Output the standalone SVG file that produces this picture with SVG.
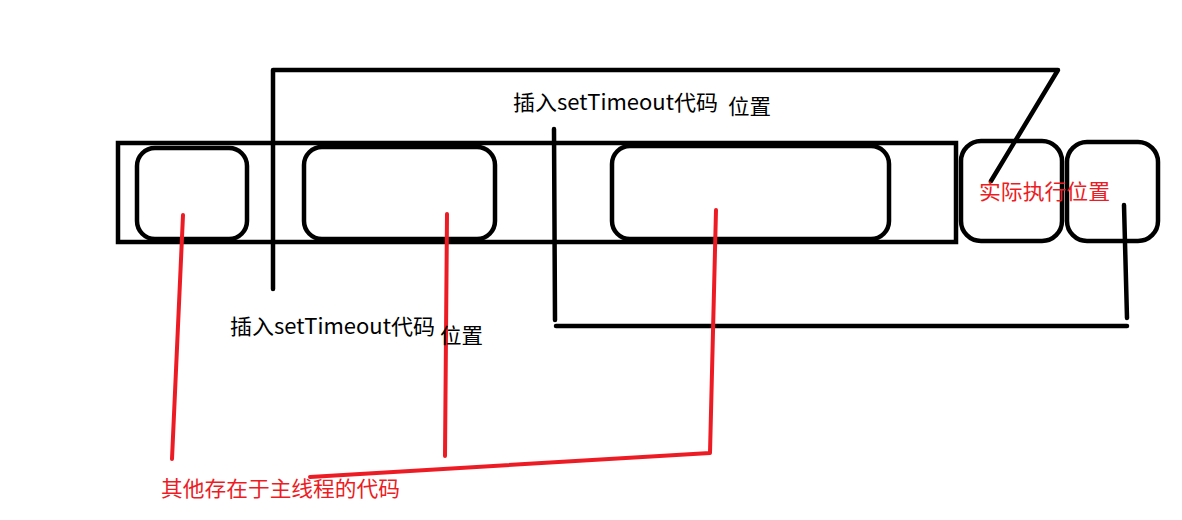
<svg xmlns="http://www.w3.org/2000/svg" width="1182" height="520" viewBox="0 0 1182 520">
<style>
.blk{fill:none;stroke:#000;stroke-width:4.5;stroke-linecap:round;stroke-linejoin:round}
.box{fill:none;stroke:#000;stroke-width:4.5}
.red{fill:none;stroke:#ed1c24;stroke-width:4;stroke-linecap:round;stroke-linejoin:round}
.t{font-family:"Microsoft YaHei","Noto Sans CJK SC",sans-serif;font-size:21px;fill:#000}
.tr{font-family:"Microsoft YaHei","Noto Sans CJK SC",sans-serif;font-size:21px;fill:#ed1c24}
</style>
<rect width="1182" height="520" fill="#fff"/>
<g id="main-thread">
<rect class="box" x="118" y="143" width="838" height="99"/>
</g>
<g id="task1"><rect class="box" x="137" y="148" width="110" height="91" rx="18"/></g>
<g id="task2"><rect class="box" x="304" y="147" width="191" height="92" rx="18"/></g>
<g id="task3"><rect class="box" x="612" y="146" width="277" height="93" rx="18"/></g>
<g id="task4"><rect class="box" x="961" y="141" width="101" height="100" rx="20"/></g>
<g id="task5"><rect class="box" x="1067" y="142" width="91" height="99" rx="20"/></g>
<g id="connectors">
<polyline class="blk" points="273,289 273,70 1058,70 991,181"/>
<polyline class="blk" points="554,129 555,320"/>
<polyline class="blk" points="556,326 1127,326"/>
<polyline class="blk" points="1124,205 1127,318"/>
<polyline class="red" points="183,215 172,459"/>
<polyline class="red" points="447,214 445,456"/>
<polyline class="red" points="716,210 710,453 310,477"/>
</g>
<g id="label-insert-top">
<text class="t" x="513" y="110" textLength="205" lengthAdjust="spacingAndGlyphs">插入setTimeout代码</text>
<text class="t" x="728" y="114" textLength="43" lengthAdjust="spacingAndGlyphs">位置</text>
</g>
<g id="label-insert-bottom">
<text class="t" x="230" y="334" textLength="205" lengthAdjust="spacingAndGlyphs">插入setTimeout代码</text>
<text class="t" x="440" y="343" textLength="43" lengthAdjust="spacingAndGlyphs">位置</text>
</g>
<g id="label-actual">
<text class="tr" x="979" y="199" textLength="131" lengthAdjust="spacingAndGlyphs">实际执行位置</text>
</g>
<g id="label-main">
<text class="tr" x="161" y="496" textLength="239" lengthAdjust="spacingAndGlyphs">其他存在于主线程的代码</text>
</g>
</svg>
